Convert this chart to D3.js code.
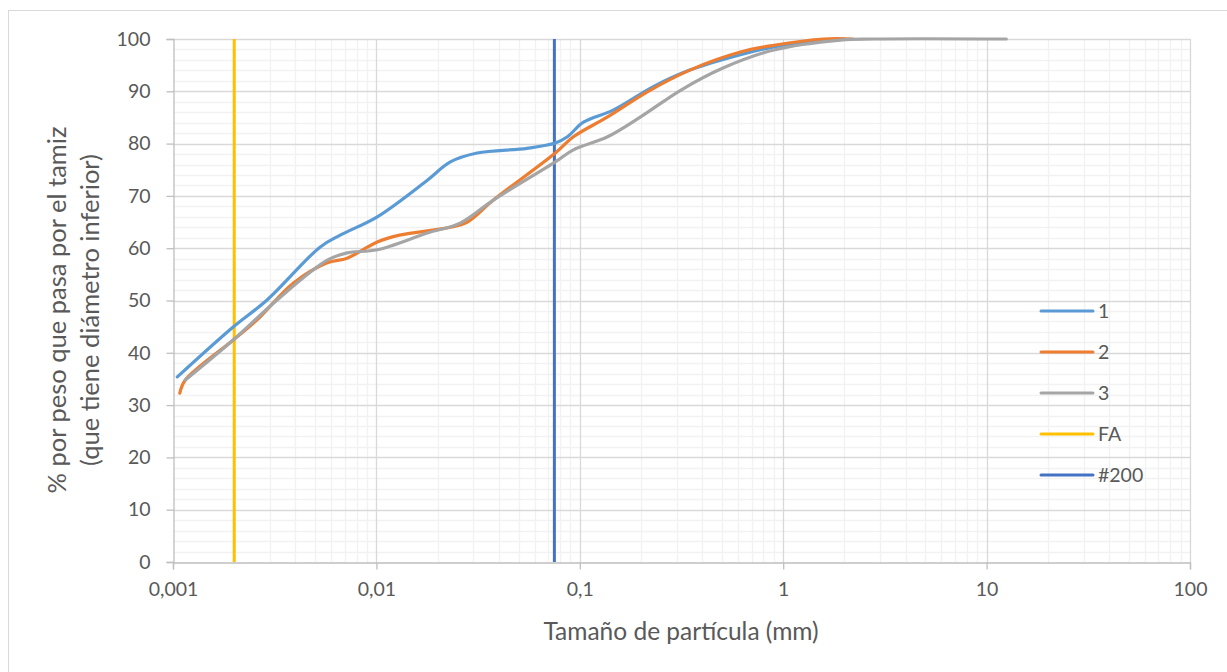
<!DOCTYPE html>
<html>
<head>
<meta charset="utf-8">
<script src="https://cdn.jsdelivr.net/npm/d3@7"></script>
<style>
  html, body { margin: 0; padding: 0; background: #fff; }
  svg { display: block; font-family: Lato, "Open Sans", sans-serif; }
</style>
</head>
<body>
<svg id="chart" width="1227" height="672"></svg>
<script>
// Particle size distribution (sieve + hydrometer), three samples
const size1 = [0.00105, 0.00197, 0.0029, 0.00528, 0.00664, 0.0101, 0.0178, 0.0231, 0.0313, 0.055, 0.0758, 0.0869, 0.1042, 0.146, 0.23, 0.35, 0.616, 0.898, 1.58, 2.0];
const pass1 = [35.4, 44.9, 50.1, 60.2, 62.5, 66.0, 73.0, 76.5, 78.2, 79.1, 80.1, 81.3, 84.1, 86.4, 90.9, 94.1, 97.0, 98.5, 99.8, 100];

const size2 = [0.00108, 0.00115, 0.00197, 0.00259, 0.0039, 0.00573, 0.00718, 0.0101, 0.013, 0.0231, 0.028, 0.0376, 0.0758, 0.093, 0.137, 0.215, 0.35, 0.616, 0.9, 1.58, 2.2];
const pass2 = [32.3, 34.8, 42.4, 46.3, 53.3, 57.2, 58.1, 61.2, 62.5, 64.0, 65.0, 69.2, 78.2, 81.3, 85.1, 89.9, 94.1, 97.5, 98.8, 100, 100];

const size3 = [0.00115, 0.00197, 0.00325, 0.00573, 0.00718, 0.0101, 0.0178, 0.0258, 0.0376, 0.0758, 0.093, 0.137, 0.199, 0.313, 0.509, 0.898, 1.91, 2.8, 12.5];
const pass3 = [34.8, 42.4, 50.1, 57.7, 59.1, 59.7, 62.9, 64.8, 69.2, 76.5, 78.8, 81.3, 85.1, 90.2, 94.5, 97.9, 99.8, 100, 100];

// Reference sizes: fine-fraction limit (FA) and sieve #200
const refNames = ["FA", "#200"];
const refSizes = [0.002, 0.075];

const seriesNames = ["1", "2", "3"];
const seriesColors = ["#5B9BD5", "#ED7D31", "#A5A5A5"];
const refColors = ["#FFC000", "#4472C4"];

const xTickValues = [0.001, 0.01, 0.1, 1, 10, 100];
const xTickLabels = ["0,001", "0,01", "0,1", "1", "10", "100"];
const yTickValues = [0, 10, 20, 30, 40, 50, 60, 70, 80, 90, 100];

const svg = d3.select("#chart");
const W = 1227, H = 672;
const plot = { left: 173, right: 1190, top: 39, bottom: 562 };

// Outer chart frame
svg.append("rect")
  .attr("x", 8.5).attr("y", 10.5)
  .attr("width", W).attr("height", H)
  .attr("fill", "#fff").attr("stroke", "#d9d9d9").attr("stroke-width", 1);

const x = d3.scaleLog().domain([0.001, 100]).range([plot.left, plot.right]);
const y = d3.scaleLinear().domain([0, 100]).range([plot.bottom, plot.top]);

// Minor gridlines
const minorX = [];
for (let e = -3; e < 2; e++) for (let m = 2; m <= 9; m++) minorX.push(m * Math.pow(10, e));
const minorY = d3.range(2, 100, 2).filter(v => v % 10 !== 0);

const grid = svg.append("g");
grid.selectAll("line.hmin").data(minorY).join("line")
  .attr("x1", plot.left).attr("x2", plot.right)
  .attr("y1", d => Math.round(y(d)) + 0.5).attr("y2", d => Math.round(y(d)) + 0.5)
  .attr("stroke", "#f2f2f2").attr("stroke-width", 1.3);
grid.selectAll("line.vmin").data(minorX).join("line")
  .attr("y1", plot.top).attr("y2", plot.bottom)
  .attr("x1", d => Math.round(x(d)) + 0.5).attr("x2", d => Math.round(x(d)) + 0.5)
  .attr("stroke", "#f2f2f2").attr("stroke-width", 1.3);
grid.selectAll("line.hmaj").data(yTickValues.slice(1)).join("line")
  .attr("x1", plot.left).attr("x2", plot.right)
  .attr("y1", d => Math.round(y(d)) + 0.5).attr("y2", d => Math.round(y(d)) + 0.5)
  .attr("stroke", "#d9d9d9").attr("stroke-width", 1.3);
grid.selectAll("line.vmaj").data(xTickValues.slice(1)).join("line")
  .attr("y1", plot.top).attr("y2", plot.bottom)
  .attr("x1", d => Math.round(x(d)) + 0.5).attr("x2", d => Math.round(x(d)) + 0.5)
  .attr("stroke", "#d9d9d9").attr("stroke-width", 1.3);

// Axes
const axisColor = "#bfbfbf";
const textColor = "#595959";

const yAxis = svg.append("g")
  .attr("transform", `translate(${plot.left + 0.5},0)`)
  .call(d3.axisLeft(y).tickValues(yTickValues).tickSize(7).tickPadding(16).tickFormat(d3.format("d")));
const xAxis = svg.append("g")
  .attr("transform", `translate(0,${plot.bottom + 0.5})`)
  .call(d3.axisBottom(x).tickValues(xTickValues).tickSize(7).tickPadding(13)
    .tickFormat((d, i) => xTickLabels[i]));

[yAxis, xAxis].forEach(a => {
  a.selectAll(".domain").attr("stroke", axisColor).attr("stroke-width", 1.3);
  a.selectAll(".tick line").attr("stroke", axisColor).attr("stroke-width", 1.3);
  a.selectAll(".tick text").attr("fill", textColor).attr("font-size", 19.5)
    .attr("font-family", "Lato, sans-serif");
});

// Reference vertical lines
const refG = svg.append("g");
refSizes.forEach((s, i) => {
  refG.append("line")
    .attr("x1", x(s)).attr("x2", x(s))
    .attr("y1", y(0)).attr("y2", y(100))
    .attr("stroke", refColors[i]).attr("stroke-width", 3);
});

// Smoothed gradation curves
const line = d3.line()
  .x(d => x(d[0])).y(d => y(d[1]))
  .curve(d3.curveCatmullRom.alpha(0.5));

const series = [
  d3.zip(size1, pass1),
  d3.zip(size2, pass2),
  d3.zip(size3, pass3)
];
series.forEach((pts, i) => {
  svg.append("path")
    .datum(pts)
    .attr("d", line)
    .attr("fill", "none")
    .attr("stroke", seriesColors[i])
    .attr("stroke-width", 3.2)
    .attr("stroke-linecap", "round")
    .attr("stroke-linejoin", "round");
});

// Legend
const legendNames = seriesNames.concat(refNames);
const legendColors = seriesColors.concat(refColors);
const leg = svg.append("g");
legendNames.forEach((n, i) => {
  const ly = 311 + i * 41;
  leg.append("line")
    .attr("x1", 1041).attr("x2", 1093)
    .attr("y1", ly).attr("y2", ly)
    .attr("stroke", legendColors[i]).attr("stroke-width", 3)
    .attr("stroke-linecap", "round");
  leg.append("text")
    .attr("x", 1098).attr("y", ly + 7)
    .attr("fill", textColor).attr("font-size", 19.5)
    .text(n);
});

// Axis titles
svg.append("text")
  .attr("x", 681).attr("y", 640)
  .attr("text-anchor", "middle")
  .attr("fill", textColor).attr("font-size", 24.5)
  .text("Tamaño de partícula (mm)");

const yt = svg.append("text")
  .attr("transform", "translate(0,310) rotate(-90)")
  .attr("text-anchor", "middle")
  .attr("fill", textColor).attr("font-size", 25.5);
yt.append("tspan").attr("x", 0).attr("y", 66).text("% por peso que pasa por el tamiz");
yt.append("tspan").attr("x", 0).attr("y", 99).text("(que tiene diámetro inferior)");
</script>
</body>
</html>
